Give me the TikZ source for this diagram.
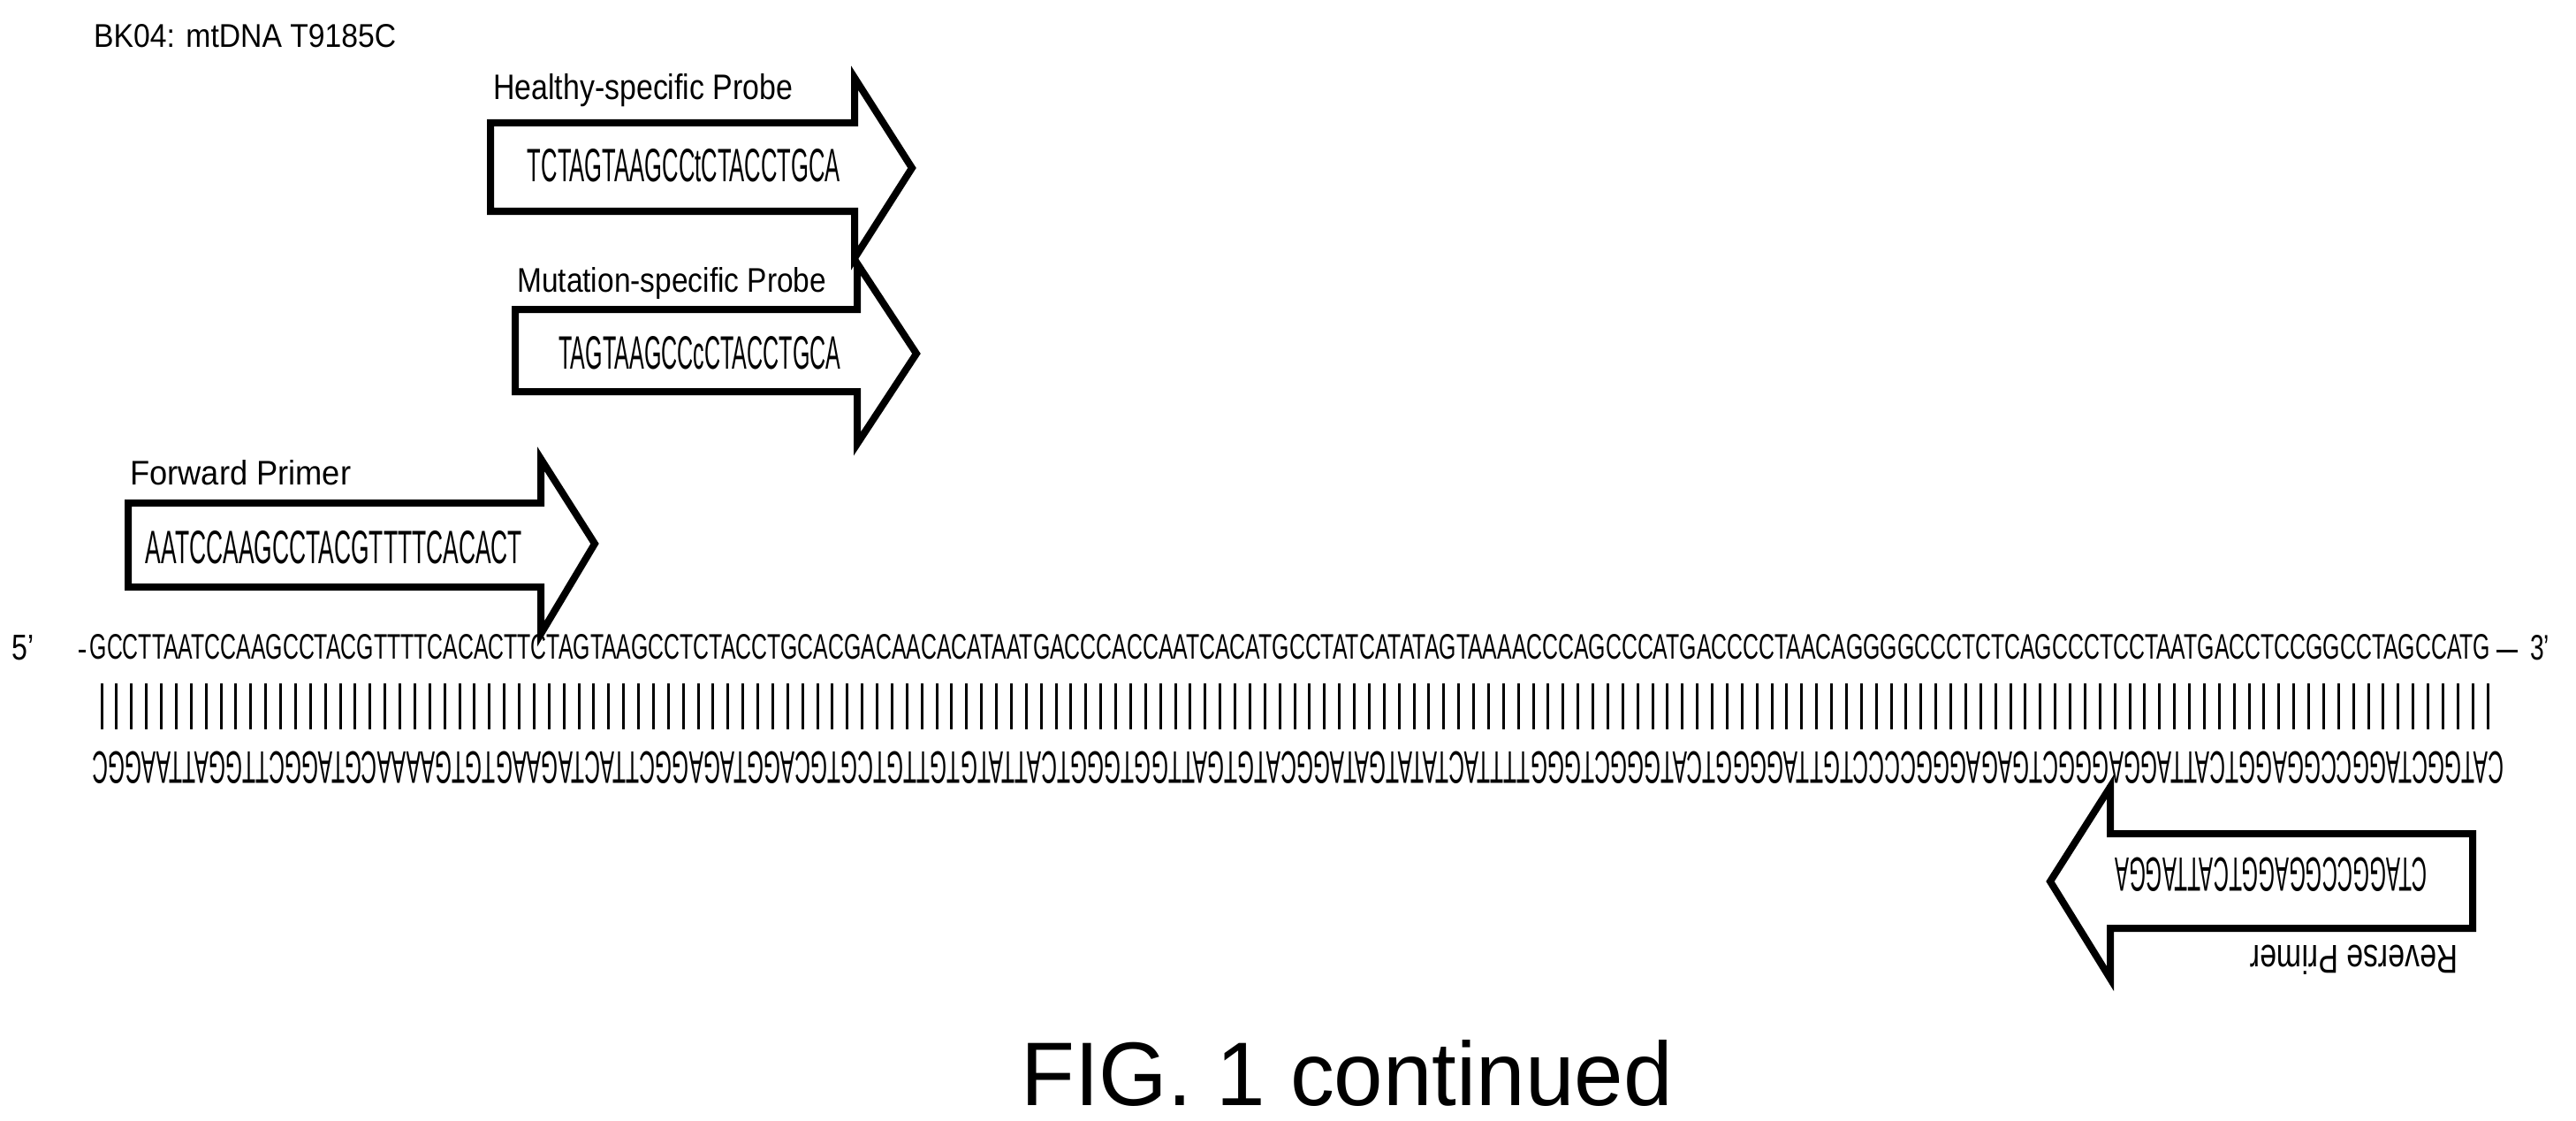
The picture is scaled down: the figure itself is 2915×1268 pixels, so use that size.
\documentclass[tikz,border=0pt]{standalone}
\usepackage{fontspec}
\setmainfont{Liberation Sans}
\usepackage{graphicx}
\newcommand\fitb[3]{\resizebox{#1pt}{#2pt}{#3}}
\begin{document}
\begin{tikzpicture}[x=1pt,y=-1pt,
  arr/.style={draw=black,line width=8pt,fill=white,line join=miter},
  t/.style={inner sep=0pt,anchor=north west},
  c/.style={inner sep=0pt,anchor=center}]
\useasboundingbox[fill=white] (0,0) rectangle (2915,1268);
\node[t] (title) at (106,27) {\fitb{342}{26}{BK04: mtDNA T9185C}};
% Healthy probe
\draw[arr] (555,139) -- (967,139) -- (967,88) -- (1032,190) -- (967,292) -- (967,239) -- (555,239) -- cycle;
\node[t] (hl) at (558,83) {\fitb{339}{29}{Healthy-specific Probe}};
\node[c] (hs) at (774,187) {\fitb{354}{37}{TCTAGTAAGCCtCTACCTGCA}};
% Mutation probe
\draw[arr] (583,350) -- (970,350) -- (970,298) -- (1037,400) -- (970,502) -- (970,443) -- (583,443) -- cycle;
\node[t] (ml) at (585,302) {\fitb{350}{28}{Mutation-specific Probe}};
\node[c] (ms) at (792,399) {\fitb{319}{37}{TAGTAAGCCcCTACCTGCA}};
% Forward primer
\draw[arr] (145,569) -- (612,569) -- (612,519) -- (673,615) -- (612,717) -- (612,664) -- (145,664) -- cycle;
\node[t] (fl) at (147,520) {\fitb{250}{28}{Forward Primer}};
\node[c] (fs) at (378,619) {\fitb{426}{37}{AATCCAAGCCTACGTTTTCACACT}};
% strands
\node[t] (p5) at (13,718) {\fitb{25}{28}{5’}};
\node[c] (dash1) at (93,736) {\fitb{8}{3}{\rule{1pt}{1pt}}};
\node[c] (top) at (1460,732) {\fitb{2716}{28}{GCCTTAATCCAAGCCTACGTTTTCACACTTCTAGTAAGCCTCTACCTGCACGACAACACATAATGACCCACCAATCACATGCCTATCATATAGTAAAACCCAGCCCATGACCCCTAACAGGGGCCCTCTCAGCCCTCCTAATGACCTCCGGCCTAGCCATG}};
\node[c] (dash2) at (2837,736) {\fitb{24}{3}{\rule{1pt}{1pt}}};
\node[t] (p3) at (2863,718) {\fitb{22}{28}{3’}};
\foreach \i in {0,...,160} \draw[line width=3pt] ({115+\i*16.875},773) -- ++(0,52);
\node[c,rotate=180] (bot) at (1469,868) {\fitb{2728}{36}{CATGGCTAGGCCGGAGGTCATTAGGAGGGCTGAGAGGGCCCCTGTTAGGGGTCATGGGCTGGGTTTTACTATATGATAGGCATGTGATTGGTGGGTCATTATGTGTTGTCGTGCAGGTAGAGGCTTACTAGAAGTGTGAAAACGTAGGCTTGGATTAAGGC}};
% Reverse primer
\draw[arr] (2798,943) -- (2388,943) -- (2388,890) -- (2320,997) -- (2388,1107) -- (2388,1050) -- (2798,1050) -- cycle;
\node[c,rotate=180] (rs) at (2570,989) {\fitb{353}{38}{CTAGGCCGGAGGTCATTAGGA}};
\node[c,rotate=180] (rl) at (2664,1086) {\fitb{235}{33}{Reverse Primer}};
\node[c] (fig) at (1524,1214) {\fitb{737}{74}{FIG. 1 continued}};
\end{tikzpicture}
\end{document}
